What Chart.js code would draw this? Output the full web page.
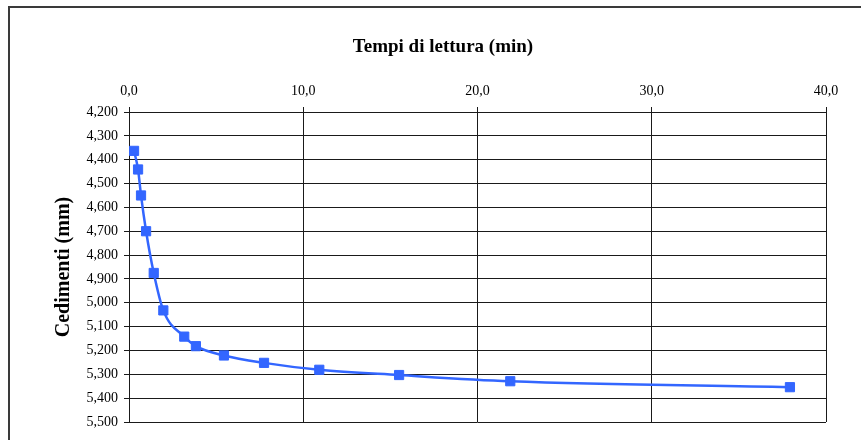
<!DOCTYPE html>
<html>
<head>
<meta charset="utf-8">
<script src="https://cdn.jsdelivr.net/npm/chart.js@4"></script>
<style>
  html, body { margin: 0; padding: 0; background: #fff; }
  #wrap { width: 861px; height: 440px; position: relative; }
</style>
</head>
<body>
<div id="wrap"><canvas id="myChart" width="861" height="440"></canvas></div>
<script>
// readings: time (min) and settlement (mm)
var tempi = [0.29, 0.52, 0.69, 0.98, 1.42, 1.97, 3.17, 3.84, 5.45, 7.75, 10.92, 15.5, 21.88, 37.93];
var cedimenti = [4.363, 4.441, 4.55, 4.70, 4.875, 5.032, 5.142, 5.182, 5.221, 5.252, 5.281, 5.303, 5.329, 5.354];

// axis ticks
var xTicks = [0, 10, 20, 30, 40];
var yTicks = [4.2, 4.3, 4.4, 4.5, 4.6, 4.7, 4.8, 4.9, 5.0, 5.1, 5.2, 5.3, 5.4, 5.5];

var titolo = "Tempi di lettura (min)";
var serif = "'Liberation Serif', 'Times New Roman', serif";

var points = tempi.map(function (t, i) {
  return { x: t, y: cedimenti[i] };
});

// outer frame and chart title
var framePlugin = {
  id: "frame",
  beforeDraw: function (chart) {
    var ctx = chart.ctx;
    ctx.save();
    ctx.fillStyle = "#fff";
    ctx.fillRect(0, 0, chart.width, chart.height);
    ctx.strokeStyle = "#3a3a3a";
    ctx.lineWidth = 2;
    ctx.strokeRect(9, 7, chart.width + 20, chart.height + 20);
    ctx.restore();
  },
  afterDraw: function (chart) {
    var ctx = chart.ctx;
    ctx.save();
    ctx.fillStyle = "#000";
    ctx.font = "bold 19px " + serif;
    ctx.textAlign = "center";
    ctx.textBaseline = "middle";
    ctx.fillText(titolo, 443, 47);
    ctx.restore();
  }
};

function comma(v, d) {
  return v.toFixed(d).replace(".", ",");
}

new Chart(document.getElementById("myChart"), {
  type: "scatter",
  data: {
    datasets: [
      {
        data: points,
        showLine: true,
        borderColor: "#3366ff",
        backgroundColor: "#3366ff",
        borderWidth: 2.5,
        cubicInterpolationMode: "monotone",
        pointStyle: "rect",
        pointRadius: 6.5,
        pointBorderWidth: 1,
        pointHoverRadius: 6.5
      }
    ]
  },
  options: {
    responsive: false,
    animation: false,
    events: [],
    layout: { padding: { top: 0, left: 0, right: 35, bottom: 18 } },
    plugins: {
      legend: { display: false },
      tooltip: { enabled: false }
    },
    scales: {
      x: {
        type: "linear",
        position: "top",
        min: 0,
        max: 40,
        afterBuildTicks: function (scale) {
          scale.ticks = xTicks.map(function (v) { return { value: v }; });
        },
        afterFit: function (scale) { scale.height = 112; },
        ticks: {
          color: "#000",
          padding: 7,
          maxRotation: 0,
          font: { family: serif, size: 14 },
          callback: function (v) { return comma(v, 1); }
        },
        grid: { color: "#1a1a1a", lineWidth: 1, tickLength: 5 },
        border: { display: false }
      },
      y: {
        type: "linear",
        reverse: true,
        min: 4.2,
        max: 5.5,
        afterBuildTicks: function (scale) {
          scale.ticks = yTicks.map(function (v) { return { value: v }; });
        },
        afterFit: function (scale) { scale.width = 129; },
        title: {
          display: true,
          text: "Cedimenti (mm)",
          color: "#000",
          font: { family: serif, size: 20, weight: "bold" },
          padding: { top: 52, bottom: 0 }
        },
        ticks: {
          color: "#000",
          padding: 6,
          font: { family: serif, size: 14 },
          callback: function (v) { return comma(v, 3); }
        },
        grid: { color: "#1a1a1a", lineWidth: 1, tickLength: 5 },
        border: { display: false }
      }
    }
  },
  plugins: [framePlugin]
});
</script>
</body>
</html>
